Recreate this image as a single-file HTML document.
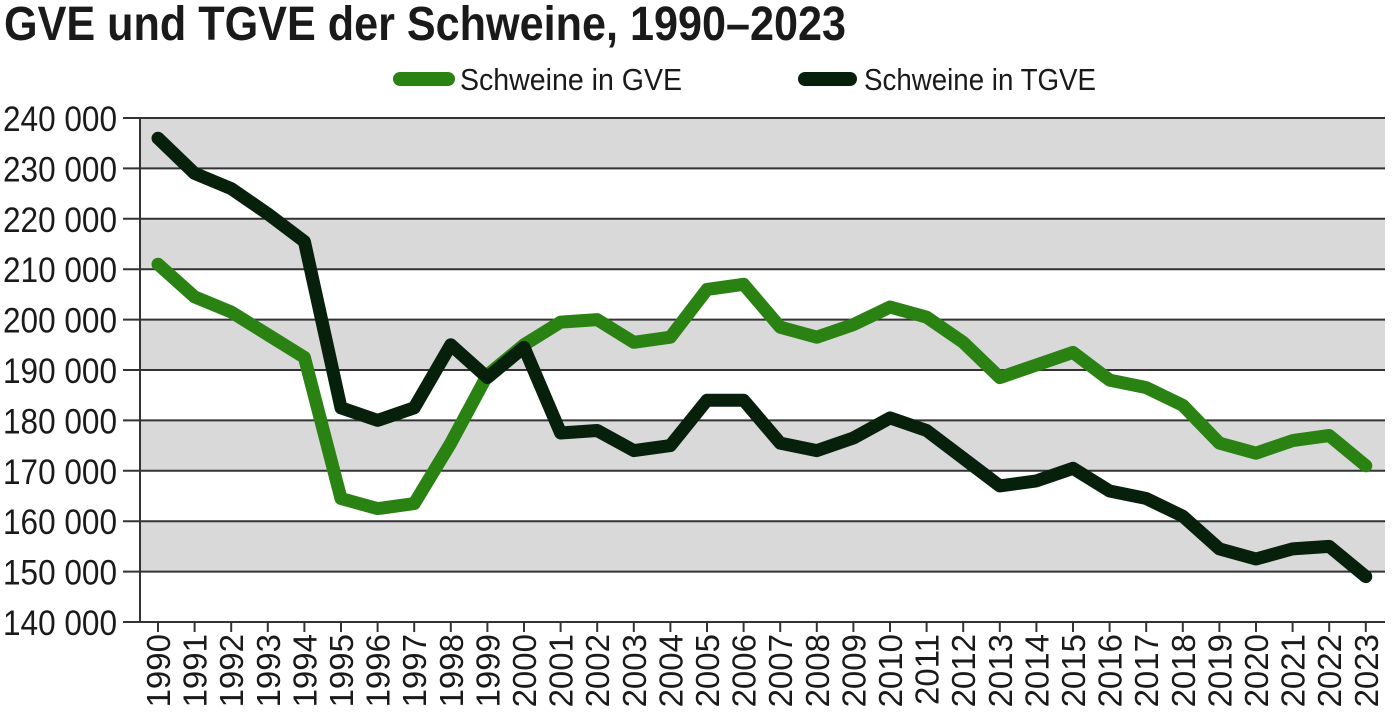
<!DOCTYPE html>
<html><head><meta charset="utf-8"><style>
body{margin:0;background:#fff}
svg{display:block}
text{font-family:"Liberation Sans Narrow","Liberation Sans",sans-serif;fill:#1a1a1a}
</style></head><body>
<svg width="1400" height="716" viewBox="0 0 1400 716">
<text x="4" y="40" font-size="48" font-weight="bold" textLength="842" lengthAdjust="spacingAndGlyphs">GVE und TGVE der Schweine, 1990–2023</text>
<line x1="400" y1="79" x2="448" y2="79" stroke="#2a8212" stroke-width="14" stroke-linecap="round"/>
<text x="460" y="90" font-size="31" textLength="222" lengthAdjust="spacingAndGlyphs">Schweine in GVE</text>
<line x1="805" y1="79" x2="850" y2="79" stroke="#06200c" stroke-width="14" stroke-linecap="round"/>
<text x="864" y="90" font-size="31" textLength="232" lengthAdjust="spacingAndGlyphs">Schweine in TGVE</text>
<g fill="#d9d9d9">
<rect x="140" y="118" width="1245" height="50.4"/>
<rect x="140" y="218.8" width="1245" height="50.4"/>
<rect x="140" y="319.6" width="1245" height="50.4"/>
<rect x="140" y="420.4" width="1245" height="50.4"/>
<rect x="140" y="521.2" width="1245" height="50.4"/>
</g>
<g stroke="#333" stroke-width="2">
<line x1="123" y1="118" x2="1385" y2="118"/>
<line x1="123" y1="168.4" x2="1385" y2="168.4"/>
<line x1="123" y1="218.8" x2="1385" y2="218.8"/>
<line x1="123" y1="269.2" x2="1385" y2="269.2"/>
<line x1="123" y1="319.6" x2="1385" y2="319.6"/>
<line x1="123" y1="370" x2="1385" y2="370"/>
<line x1="123" y1="420.4" x2="1385" y2="420.4"/>
<line x1="123" y1="470.8" x2="1385" y2="470.8"/>
<line x1="123" y1="521.2" x2="1385" y2="521.2"/>
<line x1="123" y1="571.6" x2="1385" y2="571.6"/>
<line x1="123" y1="622" x2="1385" y2="622"/>
<line x1="140" y1="118" x2="140" y2="622"/>
</g>
<g font-size="35" text-anchor="end" lengthAdjust="spacingAndGlyphs">
<text x="117" y="131" textLength="114" lengthAdjust="spacingAndGlyphs">240 000</text>
<text x="117" y="181.4" textLength="114" lengthAdjust="spacingAndGlyphs">230 000</text>
<text x="117" y="231.8" textLength="114" lengthAdjust="spacingAndGlyphs">220 000</text>
<text x="117" y="282.2" textLength="114" lengthAdjust="spacingAndGlyphs">210 000</text>
<text x="117" y="332.6" textLength="114" lengthAdjust="spacingAndGlyphs">200 000</text>
<text x="117" y="383" textLength="114" lengthAdjust="spacingAndGlyphs">190 000</text>
<text x="117" y="433.4" textLength="114" lengthAdjust="spacingAndGlyphs">180 000</text>
<text x="117" y="483.8" textLength="114" lengthAdjust="spacingAndGlyphs">170 000</text>
<text x="117" y="534.2" textLength="114" lengthAdjust="spacingAndGlyphs">160 000</text>
<text x="117" y="584.6" textLength="114" lengthAdjust="spacingAndGlyphs">150 000</text>
<text x="117" y="635" textLength="114" lengthAdjust="spacingAndGlyphs">140 000</text>
</g>
<path stroke="#333" stroke-width="2" d="M158 622v10M194.6 622v10M231.2 622v10M267.8 622v10M304.4 622v10M341 622v10M377.6 622v10M414.2 622v10M450.8 622v10M487.4 622v10M524 622v10M560.6 622v10M597.2 622v10M633.8 622v10M670.4 622v10M707 622v10M743.6 622v10M780.2 622v10M816.8 622v10M853.4 622v10M890 622v10M926.6 622v10M963.2 622v10M999.8 622v10M1036.4 622v10M1073 622v10M1109.6 622v10M1146.2 622v10M1182.8 622v10M1219.4 622v10M1256 622v10M1292.6 622v10M1329.2 622v10M1365.8 622v10"/>
<g font-size="33" text-anchor="end">
<text transform="translate(170,634) rotate(-90)">1990</text>
<text transform="translate(206.6,634) rotate(-90)">1991</text>
<text transform="translate(243.2,634) rotate(-90)">1992</text>
<text transform="translate(279.8,634) rotate(-90)">1993</text>
<text transform="translate(316.4,634) rotate(-90)">1994</text>
<text transform="translate(353,634) rotate(-90)">1995</text>
<text transform="translate(389.6,634) rotate(-90)">1996</text>
<text transform="translate(426.2,634) rotate(-90)">1997</text>
<text transform="translate(462.8,634) rotate(-90)">1998</text>
<text transform="translate(499.4,634) rotate(-90)">1999</text>
<text transform="translate(536,634) rotate(-90)">2000</text>
<text transform="translate(572.6,634) rotate(-90)">2001</text>
<text transform="translate(609.2,634) rotate(-90)">2002</text>
<text transform="translate(645.8,634) rotate(-90)">2003</text>
<text transform="translate(682.4,634) rotate(-90)">2004</text>
<text transform="translate(719,634) rotate(-90)">2005</text>
<text transform="translate(755.6,634) rotate(-90)">2006</text>
<text transform="translate(792.2,634) rotate(-90)">2007</text>
<text transform="translate(828.8,634) rotate(-90)">2008</text>
<text transform="translate(865.4,634) rotate(-90)">2009</text>
<text transform="translate(902,634) rotate(-90)">2010</text>
<text transform="translate(938.6,634) rotate(-90)">2011</text>
<text transform="translate(975.2,634) rotate(-90)">2012</text>
<text transform="translate(1011.8,634) rotate(-90)">2013</text>
<text transform="translate(1048.4,634) rotate(-90)">2014</text>
<text transform="translate(1085,634) rotate(-90)">2015</text>
<text transform="translate(1121.6,634) rotate(-90)">2016</text>
<text transform="translate(1158.2,634) rotate(-90)">2017</text>
<text transform="translate(1194.8,634) rotate(-90)">2018</text>
<text transform="translate(1231.4,634) rotate(-90)">2019</text>
<text transform="translate(1268,634) rotate(-90)">2020</text>
<text transform="translate(1304.6,634) rotate(-90)">2021</text>
<text transform="translate(1341.2,634) rotate(-90)">2022</text>
<text transform="translate(1377.8,634) rotate(-90)">2023</text>
</g>
<polyline fill="none" stroke="#2a8212" stroke-width="13" stroke-linejoin="round" stroke-linecap="round" points="158,264.2 194.6,296.9 231.2,312 267.8,334.7 304.4,357.4 341,498.5 377.6,508.6 414.2,503.6 450.8,443.1 487.4,375 524,344.8 560.6,322.1 597.2,319.6 633.8,342.3 670.4,337.2 707,289.4 743.6,284.3 780.2,327.2 816.8,337.2 853.4,324.6 890,307 926.6,317.1 963.2,342.3 999.8,377.6 1036.4,365 1073,352.4 1109.6,380.1 1146.2,387.6 1182.8,405.3 1219.4,443.1 1256,453.2 1292.6,440.6 1329.2,435.5 1365.8,465.8"/>
<polyline fill="none" stroke="#06200c" stroke-width="13" stroke-linejoin="round" stroke-linecap="round" points="158,138.2 194.6,173.4 231.2,188.6 267.8,213.8 304.4,241.5 341,407.8 377.6,420.4 414.2,407.8 450.8,344.8 487.4,377.6 524,347.3 560.6,433 597.2,430.5 633.8,450.6 670.4,445.6 707,400.2 743.6,400.2 780.2,443.1 816.8,450.6 853.4,438 890,417.9 926.6,430.5 963.2,458.2 999.8,485.9 1036.4,480.9 1073,468.3 1109.6,491 1146.2,498.5 1182.8,516.2 1219.4,548.9 1256,559 1292.6,548.9 1329.2,546.4 1365.8,576.6"/>
</svg>
</body></html>
